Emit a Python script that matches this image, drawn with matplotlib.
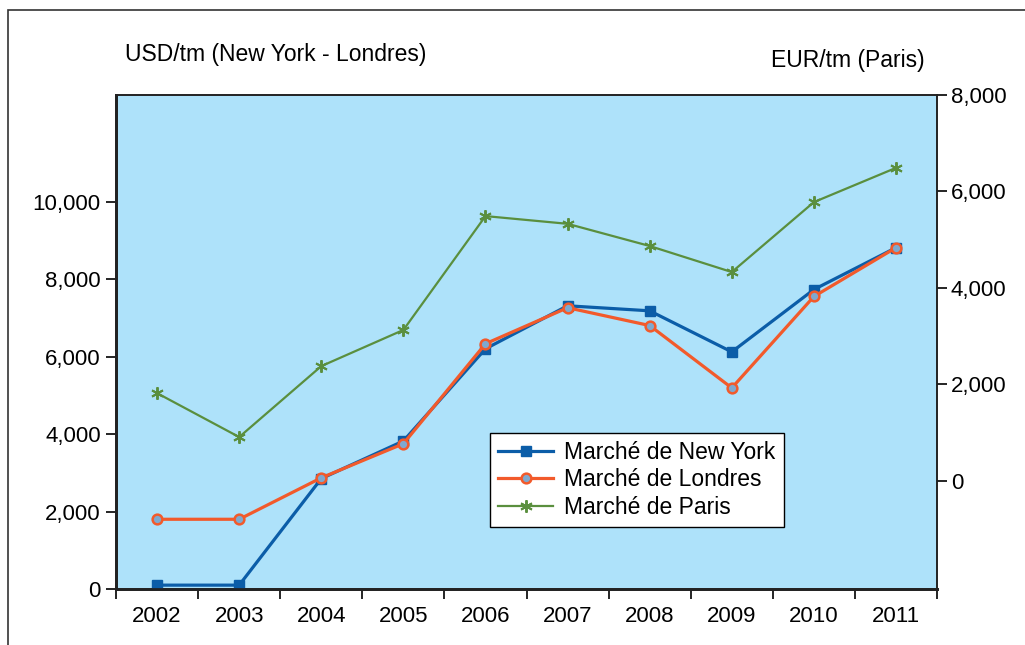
import matplotlib.pyplot as plt
from matplotlib.patches import Rectangle
from matplotlib.ticker import FuncFormatter

# ===== Data ============
years = ["2002", "2003", "2004", "2005", "2006", "2007", "2008", "2009", "2010", "2011"]
new_york = [100, 100, 2850, 3820, 6200, 7310, 7180, 6120, 7730, 8810]
londres = [1800, 1800, 2870, 3750, 6330, 7260, 6800, 5190, 7550, 8810]
paris = [1820, 910, 2380, 3130, 5490, 5330, 4870, 4330, 5780, 6490]

left_ticks = [0, 2000, 4000, 6000, 8000, 10000]
right_ticks = [0, 2000, 4000, 6000, 8000]

plt.rcParams['font.family'] = ['Liberation Sans', 'DejaVu Sans']
fs = 16.5
fs_tick = 16

fig = plt.figure(figsize=(10.25, 6.45), dpi=100)
ax = fig.add_axes([0.1132, 0.0868, 0.8010, 0.7659])
ax2 = ax.twinx()

# outer chart frame
fig.patches.append(Rectangle((8 / 1025, -0.02), 1.05, 1 - 10 / 645 + 0.02,
                             transform=fig.transFigure, fill=False,
                             edgecolor='#333333', linewidth=1.2, clip_on=False))

ax.set_facecolor('#AEE2FA')
x = list(range(len(years)))

l1, = ax.plot(x, new_york, color='#0B5DA8', linewidth=2.3, marker='s',
              markersize=7.5, markerfacecolor='#0B5DA8', markeredgecolor='#0B5DA8',
              label="Marché de New York", zorder=3)
l2, = ax.plot(x, londres, color='#F25A2B', linewidth=2.3, marker='o',
              markersize=7, markerfacecolor='#7FA9CF', markeredgecolor='#F25A2B',
              markeredgewidth=1.8, label="Marché de Londres", zorder=4)
l3, = ax2.plot(x, paris, color='#5A8F3E', linewidth=1.6, marker=(6, 2, 0),
               markersize=9, markeredgecolor='#5A8F3E', markeredgewidth=1.4,
               label="Marché de Paris")

ax.set_xlim(-0.5, len(years) - 0.5)
ax.set_ylim(0, 12750)
ax2.set_ylim(-2240, 8000)

ax.set_xticks([i - 0.5 for i in range(len(years) + 1)])
ax.set_xticklabels([])
ax.set_xticks(x, minor=True)
ax.set_xticklabels(years, minor=True, fontsize=fs_tick)
ax.tick_params(axis='x', which='minor', length=0, pad=12)
ax.tick_params(axis='x', which='major', length=7, width=1.2, direction='out')

fmt = FuncFormatter(lambda v, p: f"{int(v):,}")
ax.set_yticks(left_ticks)
ax.yaxis.set_major_formatter(fmt)
ax.tick_params(axis='y', labelsize=fs_tick, length=7, width=1.2, pad=4)
ax2.set_yticks(right_ticks)
ax2.yaxis.set_major_formatter(fmt)
ax2.tick_params(axis='y', labelsize=fs_tick, length=7, width=1.2, pad=3)

for a in (ax, ax2):
    for s in a.spines.values():
        s.set_color('#222222')
        s.set_linewidth(1.2)
    a.spines['left'].set_linewidth(2)
    a.spines['bottom'].set_linewidth(2)

fig.text(125 / 1025, 1 - 55 / 645, "USD/tm (New York - Londres)", fontsize=fs,
         va='center', ha='left')
fig.text(925 / 1025, 1 - 60 / 645, "EUR/tm (Paris)", fontsize=fs,
         va='center', ha='right')

leg = ax2.legend(handles=[l1, l2, l3], loc='lower left',
                 bbox_to_anchor=(0.4555, 0.1255), fontsize=fs, frameon=True,
                 fancybox=False, edgecolor='black', framealpha=1,
                 borderpad=0.35, labelspacing=0.2, handlelength=2.4,
                 handletextpad=0.5, borderaxespad=0)
leg.get_frame().set_linewidth(1.0)
leg.set_zorder(10)

fig.savefig("out.png", dpi=100)
